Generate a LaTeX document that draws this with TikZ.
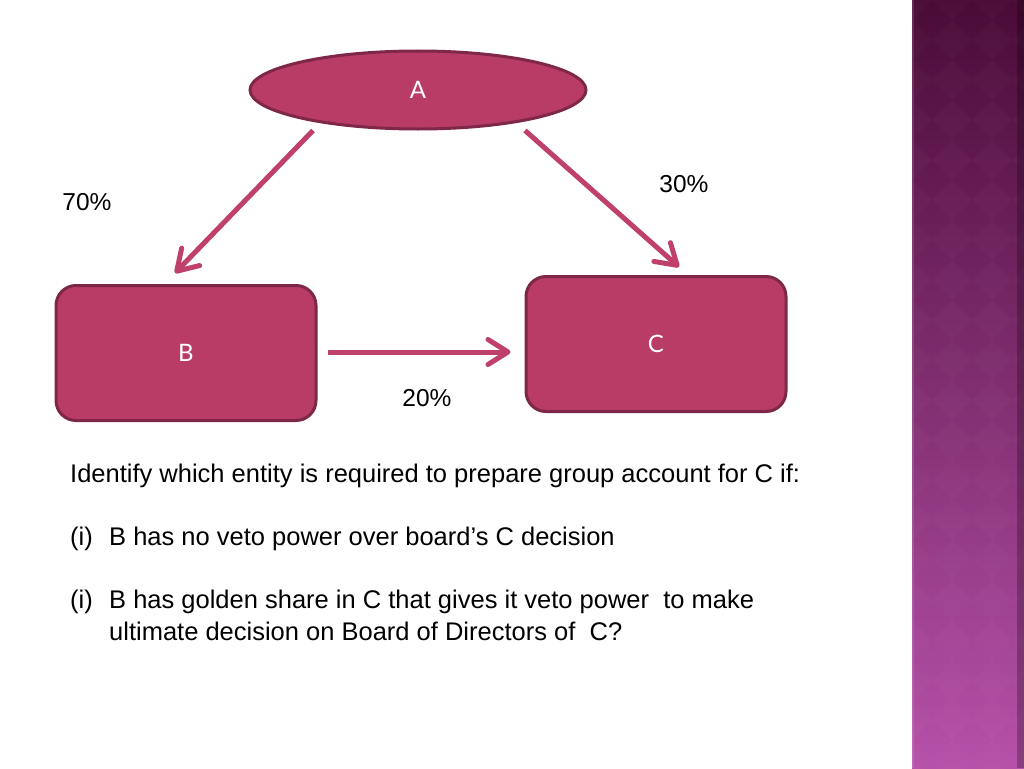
\documentclass[tikz,border=0pt]{standalone}
\usepackage{fontspec}
\setmainfont{Liberation Sans}
\newfontfamily\entityfont{Lato}
\usetikzlibrary{
    arrows.meta,
    calc,
    positioning,
    shapes.geometric
}
\definecolor{entityfill}{HTML}{B93C66}
\definecolor{entityline}{HTML}{7E2748}
\definecolor{sharecolor}{HTML}{C0406C}
\definecolor{bandtop}{HTML}{4A0B37}
\definecolor{bandbottom}{HTML}{B651A9}

\begin{document}
\begin{tikzpicture}[x=1pt, y=-1pt,
    entity/.style={draw=entityline, fill=entityfill, line width=3pt, inner sep=0pt,
        text=white, font=\entityfont\fontsize{24}{28}\selectfont},
    entitybox/.style={entity, rounded corners=20pt, minimum width=260pt, minimum height=135pt},
    share/.style={draw=sharecolor, line width=5pt,
        -{Straight Barb[length=20pt, width=25pt, line width=5pt, round]}},
    pct/.style={inner sep=0pt, font=\fontsize{24.5}{28}\selectfont},
    question/.style={inner sep=0pt, anchor=base west, font=\fontsize{25.5}{32}\selectfont}
    ]
    \useasboundingbox (0,0) rectangle (1024,768);
    \fill[white] (0,0) rectangle (912,768);

    % side band
    \begin{scope}
        \clip (912,0) rectangle (1024,768);
        \shade[top color=bandtop, bottom color=bandbottom] (912,0) rectangle (1024,768);
        \foreach \i in {0,...,20} {
            \foreach \j in {0,...,3} {
                \fill[white, opacity=0.02] (912+40*\j, 40*\i-20) -- (932+40*\j, 40*\i)
                    -- (912+40*\j, 40*\i+20) -- (892+40*\j, 40*\i) -- cycle;
            }
        }
        \fill[black, opacity=0.25] (1017,0) rectangle (1024,768);
        \draw[white, opacity=0.12, line width=1.5pt] (913,0) -- (913,768);
    \end{scope}

    % entities
    \node[entity, ellipse, minimum width=336pt, minimum height=78pt] (A) at (418,90) {A};
    \node[entitybox] (B) at (186,353) {B};
    \node[entitybox] (C) at (656,344) {C};

    % shareholdings
    \draw[share] ($(A.south)+(-105,0)$) -- ($(B.north)+(-11,-11)$);
    \draw[share] ($(A.south)+(107,0)$) -- ($(C.north)+(23,-8)$);
    \draw[share] ($(B.east)+(10,-1)$) -- ($(C.west)+(-14,8)$);
    \node[pct] (pab) at (87,202) {70\%};
    \node[pct] (pac) at (684,184) {30\%};
    \node[pct] (pbc) at (427,398) {20\%};

    % question
    \node[question] (q0) at (70,482) {Identify which entity is required to prepare group account for C if:};
    \node[question] (q1) at (70,545) {(i)};
    \node[question] (q1t) at (109,545) {B has no veto power over board’s C decision};
    \node[question] (q2) at (70,608) {(i)};
    \node[question] (q2t) at (109,608) {B has golden share in C that gives it veto power\ \ to make};
    \node[question] (q2u) at (109,640) {ultimate decision on Board of Directors of\ \ C?};
\end{tikzpicture}
\end{document}
